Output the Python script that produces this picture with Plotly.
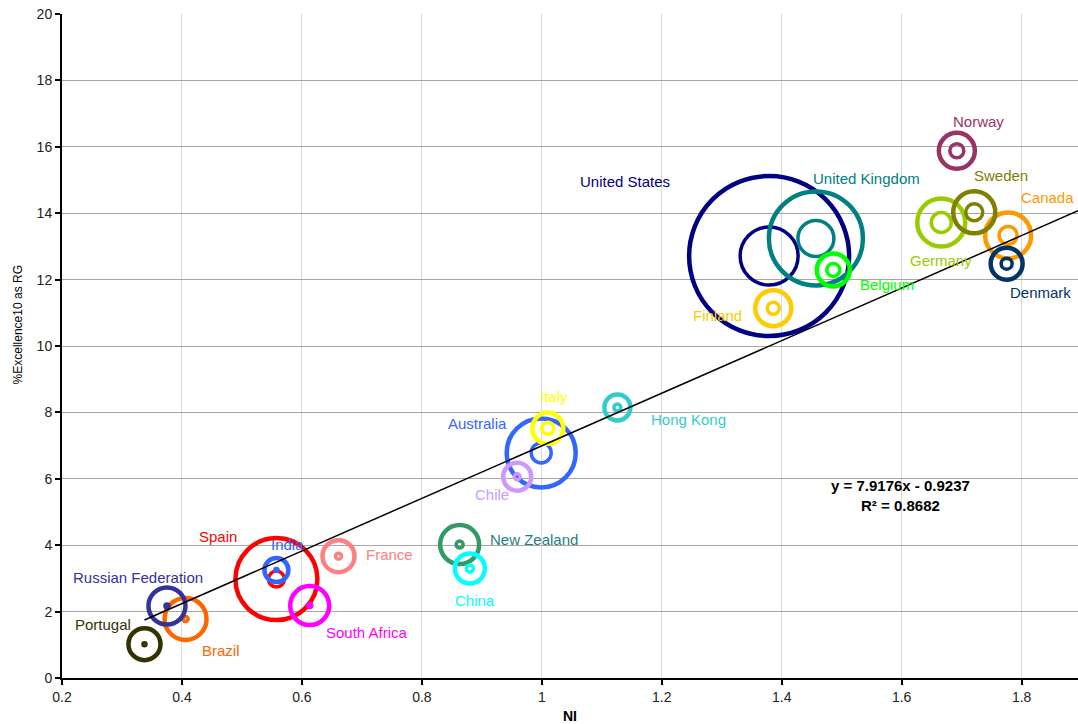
import plotly.graph_objects as go

# Country-level indicators: NI (x) against %Excellence10 as RG (y)
countries = [
    "Portugal", "Russian Federation", "Brazil", "Spain", "India", "France",
    "South Africa", "New Zealand", "China", "Chile", "Australia", "Italy",
    "Hong Kong", "United States", "United Kingdom", "Belgium", "Finland",
    "Norway", "Sweden", "Germany", "Canada", "Denmark",
]
ni = [
    0.3375, 0.375, 0.406, 0.5575, 0.5575, 0.661,
    0.613, 0.863, 0.880, 0.959, 0.999, 1.010,
    1.126, 1.379, 1.457, 1.486, 1.386,
    1.692, 1.721, 1.666, 1.7775, 1.775,
]
excellence = [
    1.02, 2.17, 1.78, 2.98, 3.25, 3.67,
    2.18, 4.02, 3.30, 6.06, 6.78, 7.52,
    8.15, 12.71, 13.24, 12.29, 11.14,
    15.88, 14.03, 13.72, 13.33, 12.48,
]
# bubble sizes: outer ring (total output) and inner ring (excellent output)
outer_size = [
    32, 37, 42, 82, 24, 32,
    39, 39, 30, 28, 69, 31,
    26, 160, 94, 33, 36,
    36, 42, 48, 46, 32,
]
inner_size = [
    3, 4, 5, 16, 3, 6,
    4, 7, 7, 6, 20, 12,
    7, 58, 36, 13, 12,
    14, 17, 20, 18, 11,
]

# linear fit reported on the chart
slope, intercept, r2 = 7.9176, -0.9237, 0.8682

colors = {
    "Portugal": "#333300", "Russian Federation": "#333399", "Brazil": "#ff6600",
    "Spain": "#ff0000", "India": "#3366ff", "France": "#ff8080",
    "South Africa": "#ff00ff", "New Zealand": "#339966", "China": "#00ffff",
    "Chile": "#cc99ff", "Australia": "#3366ff", "Italy": "#ffff00",
    "Hong Kong": "#33cccc", "United States": "#000080", "United Kingdom": "#008080",
    "Belgium": "#00ff00", "Finland": "#ffcc00", "Norway": "#993366",
    "Sweden": "#808000", "Germany": "#99cc00", "Canada": "#ff9900",
    "Denmark": "#003366",
}
label_colors = dict(colors)
label_colors["New Zealand"] = "#1f7f7f"

# label offsets from bubble centre, in pixels (dx, dy up)
label_offsets = {
    "Portugal": (-41, 20), "Russian Federation": (-29, 28), "Brazil": (35, -32),
    "Spain": (-58, 43), "India": (11, 26), "France": (51, 2),
    "South Africa": (57, -27), "New Zealand": (74, 5), "China": (5, -32),
    "Chile": (-25, -18), "Australia": (-64, 29), "Italy": (6, 32),
    "Hong Kong": (71, -12), "United States": (-144, 75), "United Kingdom": (51, 60),
    "Belgium": (54, -15), "Finland": (-56, -7), "Norway": (22, 29),
    "Sweden": (27, 37), "Germany": (0, -38), "Canada": (39, 38),
    "Denmark": (34, -29),
}

FONT = "Liberation Sans, Arial, sans-serif"

fig = go.Figure()

# largest bubbles first so smaller ones sit on top
order = sorted(range(len(countries)), key=lambda i: -outer_size[i])
for i in order:
    c = colors[countries[i]]
    fig.add_trace(go.Scatter(
        x=[ni[i], ni[i]], y=[excellence[i], excellence[i]],
        mode="markers",
        marker=dict(
            symbol="circle-open",
            size=[outer_size[i], inner_size[i]],
            color=c,
            opacity=1,
            line=dict(color=c, width=[4.5, 3.5]),
        ),
        hoverinfo="skip",
        showlegend=False,
    ))

# trend line across the data and on to the right edge of the plot
x_end = 1.894
x_fit = [min(ni), x_end]
y_fit = [slope * v + intercept for v in x_fit]
fig.add_trace(go.Scatter(
    x=x_fit, y=y_fit, mode="lines",
    line=dict(color="black", width=1.5),
    hoverinfo="skip", showlegend=False,
))

annotations = []
for i, name in enumerate(countries):
    dx, dy = label_offsets[name]
    annotations.append(dict(
        x=ni[i], y=excellence[i], xref="x", yref="y",
        text=name, showarrow=False, xshift=dx, yshift=dy,
        font=dict(family=FONT, size=15, color=label_colors[name]),
        xanchor="center", yanchor="middle",
    ))

annotations.append(dict(
    x=1.5975, y=5.50, xref="x", yref="y",
    text=f"y = {slope}x - {abs(intercept)}<br>R² = {r2}",
    showarrow=False, align="center",
    font=dict(family=FONT, size=15, color="black", weight="bold"),
    xanchor="center", yanchor="middle",
))
annotations.append(dict(
    x=0.5, y=-0.0572, xref="paper", yref="paper",
    text="NI", showarrow=False,
    font=dict(family=FONT, size=14, color="black", weight="bold"),
    xanchor="center", yanchor="middle",
))
annotations.append(dict(
    x=-0.0433, y=0.531, xref="paper", yref="paper",
    text="%Excellence10 as RG", showarrow=False, textangle=-90,
    font=dict(family=FONT, size=12, color="black"),
    xanchor="center", yanchor="middle",
))

fig.update_layout(
    width=1078, height=724,
    margin=dict(l=62, r=0, t=14, b=46),
    paper_bgcolor="white", plot_bgcolor="white",
    font=dict(family=FONT, size=14, color="#222222"),
    annotations=annotations,
    hovermode=False,
    xaxis=dict(
        range=[0.2, x_end], tick0=0.2, dtick=0.2,
        showgrid=True, gridcolor="#d9d9d9", gridwidth=1,
        showline=True, linecolor="black", linewidth=2,
        ticks="outside", ticklen=5, tickwidth=1.5, tickcolor="black",
        zeroline=False, tickfont=dict(size=14, color="#222222"),
    ),
    yaxis=dict(
        range=[0, 20], tick0=0, dtick=2,
        showgrid=True, gridcolor="#a6a6a6", gridwidth=1,
        showline=True, linecolor="black", linewidth=2,
        ticks="outside", ticklen=5, tickwidth=1.5, tickcolor="black",
        zeroline=False, tickfont=dict(size=14, color="#222222"),
    ),
)

fig.write_html("out.html")
